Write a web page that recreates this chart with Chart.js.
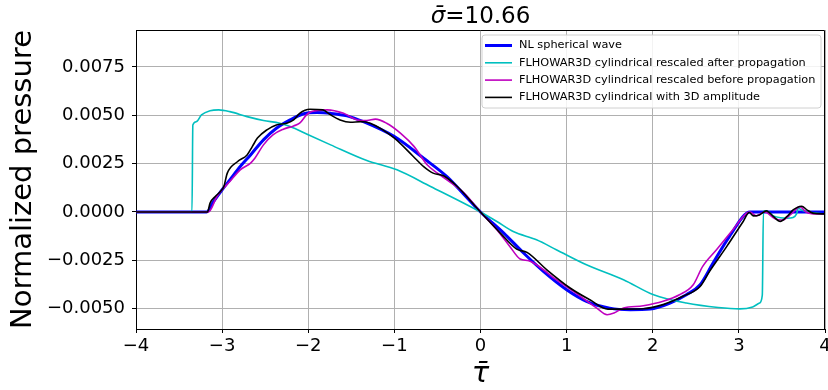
<!DOCTYPE html>
<html><head><meta charset="utf-8">
<script src="https://cdn.jsdelivr.net/npm/chart.js@4.4.1/dist/chart.umd.min.js"></script>
<style>html,body{margin:0;padding:0;background:#fff;} canvas{display:block;}</style>
</head><body>
<canvas id="c" width="828" height="390"></canvas>
<script>
// ---- text ----
const titleMath = 'σ\u0304';
const titleRest = '=10.66';
const xTitle = 'τ\u0304';
const yTitle = 'Normalized pressure';
const seriesNames = [
  'NL spherical wave',
  'FLHOWAR3D cylindrical rescaled after propagation',
  'FLHOWAR3D cylindrical rescaled before propagation',
  'FLHOWAR3D cylindrical with 3D amplitude'
];
const xTicks = [-4, -3, -2, -1, 0, 1, 2, 3, 4];
const xTickLabels = ['\u22124', '\u22123', '\u22122', '\u22121', '0', '1', '2', '3', '4'];
const yTicks = [-0.005, -0.0025, 0, 0.0025, 0.005, 0.0075];
const yTickLabels = ['\u22120.0050', '\u22120.0025', '0.0000', '0.0025', '0.0050', '0.0075'];

// ---- data ----
const tauNL = [-4, -3.18, -3.1, -3.0, -2.91, -2.79, -2.67, -2.52, -2.37, -2.21, -2.06, -1.9, -1.74, -1.55, -1.36, -1.0, -0.66, -0.39, -0.2, 0, 0.27, 0.5, 0.73, 1.0, 1.23, 1.5, 1.74, 1.97, 2.2, 2.39, 2.55, 2.7, 2.89, 3.13, 4];
const pNL = [0, 0, 0.00054, 0.00115, 0.00166, 0.00235, 0.00295, 0.00373, 0.00433, 0.00476, 0.00507, 0.00514, 0.0051, 0.00497, 0.00467, 0.0039, 0.00278, 0.00183, 0.00095, 0, -0.00109, -0.00212, -0.00307, -0.00402, -0.00462, -0.00497, -0.00505, -0.00502, -0.00471, -0.00428, -0.00376, -0.00264, -0.00127, 0, 0];

const tauAfter = [-4, -3.35, -3.34, -3.30, -3.24, -3.14, -3.04, -2.91, -2.71, -2.52, -2.33, -2.21, -2.0, -1.74, -1.32, -0.97, -0.58, 0, 0.19, 0.38, 0.65, 0.88, 1.23, 1.66, 2.01, 2.39, 2.76, 3.01, 3.16, 3.24, 3.272, 3.285, 3.32, 3.4, 3.48, 3.56, 3.63, 3.67, 3.69, 3.72, 3.8, 4];
const pAfter = [0, 0, 0.0045, 0.00467, 0.00502, 0.00524, 0.00528, 0.00519, 0.00493, 0.00473, 0.00459, 0.00442, 0.00399, 0.00347, 0.00266, 0.00218, 0.00132, 0, -0.00049, -0.00101, -0.00144, -0.00195, -0.00273, -0.0035, -0.00428, -0.00471, -0.00494, -0.00501, -0.00491, -0.00471, -0.0043, 0.00005, 0.00005, -0.0002, -0.0003, -0.00032, -0.00028, -0.0001, 0.0002, 0.00012, 0.0, -0.0001];

const tauBefore = [-4, -3.16, -3.06, -3.0, -2.91, -2.79, -2.67, -2.62, -2.52, -2.41, -2.29, -2.17, -2.1, -2.02, -1.96, -1.78, -1.59, -1.43, -1.32, -1.22, -1.09, -0.93, -0.77, -0.62, -0.5, -0.39, -0.19, 0, 0.19, 0.34, 0.46, 0.56, 0.65, 0.88, 1.16, 1.35, 1.47, 1.55, 1.66, 1.89, 2.12, 2.31, 2.47, 2.58, 2.74, 2.93, 3.09, 3.13, 3.2, 3.3, 3.42, 3.5, 3.61, 3.71, 3.78, 3.9, 4];
const pBefore = [0, 0, 0.0008, 0.00115, 0.00158, 0.00218, 0.00253, 0.00278, 0.00347, 0.00399, 0.00428, 0.00445, 0.00459, 0.00502, 0.00519, 0.00528, 0.0051, 0.00476, 0.00473, 0.0048, 0.00459, 0.00408, 0.00338, 0.00244, 0.00201, 0.00166, 0.00098, 0, -0.00092, -0.00178, -0.00243, -0.00252, -0.00273, -0.0035, -0.00436, -0.00497, -0.00531, -0.00522, -0.00497, -0.00485, -0.00462, -0.00428, -0.00376, -0.00281, -0.00195, -0.00092, -0.00006, 0, -0.0002, 0, -0.00035, -0.00042, -0.0001, 0.00028, 0.0, -0.0001, -0.0001];

const tau3D = [-4, -3.17, -3.14, -3.08, -3.02, -2.98, -2.94, -2.82, -2.71, -2.65, -2.59, -2.48, -2.37, -2.25, -2.17, -2.1, -1.98, -1.83, -1.74, -1.63, -1.51, -1.39, -1.28, -1.0, -0.78, -0.66, -0.55, -0.43, -0.27, 0, 0.23, 0.42, 0.54, 0.77, 1.04, 1.27, 1.48, 1.65, 1.89, 2.12, 2.35, 2.55, 2.66, 2.86, 3.05, 3.12, 3.17, 3.24, 3.32, 3.4, 3.48, 3.56, 3.63, 3.73, 3.79, 3.86, 4];
const p3D = [0, 0, 0.00046, 0.0008, 0.00106, 0.00132, 0.00201, 0.00261, 0.00295, 0.00338, 0.00382, 0.00425, 0.0045, 0.00459, 0.00476, 0.0051, 0.00531, 0.00528, 0.00502, 0.00476, 0.00464, 0.00467, 0.00459, 0.00382, 0.00287, 0.00235, 0.00201, 0.00187, 0.00132, 0, -0.00109, -0.00192, -0.00209, -0.00299, -0.00393, -0.00454, -0.00502, -0.00502, -0.005, -0.00479, -0.00436, -0.00385, -0.00307, -0.00178, -0.00049, -0.00003, -0.0002, -0.00015, 0.00006, -0.00023, -0.00049, -0.00023, 0.00011, 0.0003, 0.00011, -0.00006, -0.0001];

const toPts = (xs, ys) => xs.map((x, i) => ({x: x, y: ys[i]}));
const FONT = "'DejaVu Sans', 'Liberation Sans', sans-serif";

const overlay = {
  id: 'overlay',
  afterDraw(chart) {
    const ctx = chart.ctx, ca = chart.chartArea;
    ctx.save();
    // top and right spines
    ctx.strokeStyle = '#000'; ctx.lineWidth = 1;
    ctx.beginPath();
    ctx.moveTo(Math.round(ca.left) + 0.5, Math.round(ca.top) + 0.5);
    ctx.lineTo(Math.round(ca.right) - 0.5, Math.round(ca.top) + 0.5);
    ctx.lineTo(Math.round(ca.right) - 0.5, Math.round(ca.bottom) + 0.5);
    ctx.stroke();
    // title
    ctx.fillStyle = '#000';
    ctx.textBaseline = 'alphabetic';
    const f1 = 'italic 23px ' + FONT, f2 = '23px ' + FONT;
    ctx.font = f1; const w1 = ctx.measureText(titleMath).width;
    ctx.font = f2; const w2 = ctx.measureText(titleRest).width;
    const cx = (ca.left + ca.right) / 2;
    let x0 = cx - (w1 + w2) / 2;
    ctx.font = f1; ctx.textAlign = 'left'; ctx.fillText(titleMath, x0, 23);
    ctx.font = f2; ctx.fillText(titleRest, x0 + w1, 23);
    // legend
    const bx = 482, by = 35, bw = 339, bh = 73, r = 3;
    ctx.beginPath();
    ctx.moveTo(bx + r, by);
    ctx.arcTo(bx + bw, by, bx + bw, by + bh, r);
    ctx.arcTo(bx + bw, by + bh, bx, by + bh, r);
    ctx.arcTo(bx, by + bh, bx, by, r);
    ctx.arcTo(bx, by, bx + bw, by, r);
    ctx.closePath();
    ctx.fillStyle = 'rgba(255,255,255,0.85)';
    ctx.fill();
    ctx.strokeStyle = '#d0d0d0'; ctx.lineWidth = 1;
    ctx.stroke();
    ctx.font = '11.3px ' + FONT;
    ctx.textBaseline = 'middle';
    chart.data.datasets.forEach((ds, i) => {
      const y = 45.5 + i * 17.3;
      ctx.strokeStyle = ds.borderColor; ctx.lineWidth = ds.borderWidth;
      ctx.beginPath(); ctx.moveTo(485, y); ctx.lineTo(512, y); ctx.stroke();
      ctx.fillStyle = '#000';
      ctx.fillText(ds.label, 519, y);
    });
    ctx.restore();
  }
};

new Chart(document.getElementById('c'), {
  type: 'line',
  data: {
    datasets: [
      {label: seriesNames[0], data: toPts(tauNL, pNL), borderColor: '#0000ff', borderWidth: 3, order: 4},
      {label: seriesNames[1], data: toPts(tauAfter, pAfter), borderColor: '#00bfbf', borderWidth: 1.6, order: 3},
      {label: seriesNames[2], data: toPts(tauBefore, pBefore), borderColor: '#bf00bf', borderWidth: 1.6, order: 2},
      {label: seriesNames[3], data: toPts(tau3D, p3D), borderColor: '#000000', borderWidth: 1.6, order: 1}
    ]
  },
  options: {
    responsive: false,
    animation: false,
    devicePixelRatio: 1,
    layout: {padding: {top: 30, right: 3, left: 0, bottom: 0}},
    elements: {
      point: {radius: 0},
      line: {cubicInterpolationMode: 'monotone', tension: 0.4, fill: false}
    },
    plugins: {legend: {display: false}, title: {display: false}, tooltip: {enabled: false}},
    scales: {
      x: {
        type: 'linear', min: -4, max: 4,
        afterBuildTicks: s => { s.ticks = xTicks.map(v => ({value: v})); },
        afterFit: s => { s.height = 61; s.paddingLeft = 0; s.paddingRight = 0; },
        ticks: {
          font: {family: FONT, size: 18}, color: '#000', padding: 3, maxRotation: 0, autoSkip: false,
          callback: v => xTickLabels[xTicks.indexOf(v)]
        },
        grid: {color: '#b0b0b0', lineWidth: 1, tickColor: '#000', tickLength: 4, tickWidth: 1},
        border: {display: true, color: '#000', width: 1},
        title: {display: true, text: xTitle, color: '#000', font: {family: FONT, size: 29, style: 'italic'}, padding: {top: 0, bottom: -2}}
      },
      y: {
        type: 'linear', min: -0.00605, max: 0.00941,
        afterBuildTicks: s => { s.ticks = yTicks.map(v => ({value: v})); },
        afterFit: s => { s.width = 136; },
        ticks: {
          font: {family: FONT, size: 18}, color: '#000', padding: 7, autoSkip: false,
          callback: v => yTickLabels[yTicks.indexOf(v)]
        },
        grid: {color: '#b0b0b0', lineWidth: 1, tickColor: '#000', tickLength: 4, tickWidth: 1},
        border: {display: true, color: '#000', width: 1},
        title: {display: true, text: yTitle, color: '#000', font: {family: FONT, size: 29}, padding: {top: 6, bottom: 0}}
      }
    }
  },
  plugins: [overlay]
});
</script>
</body></html>
